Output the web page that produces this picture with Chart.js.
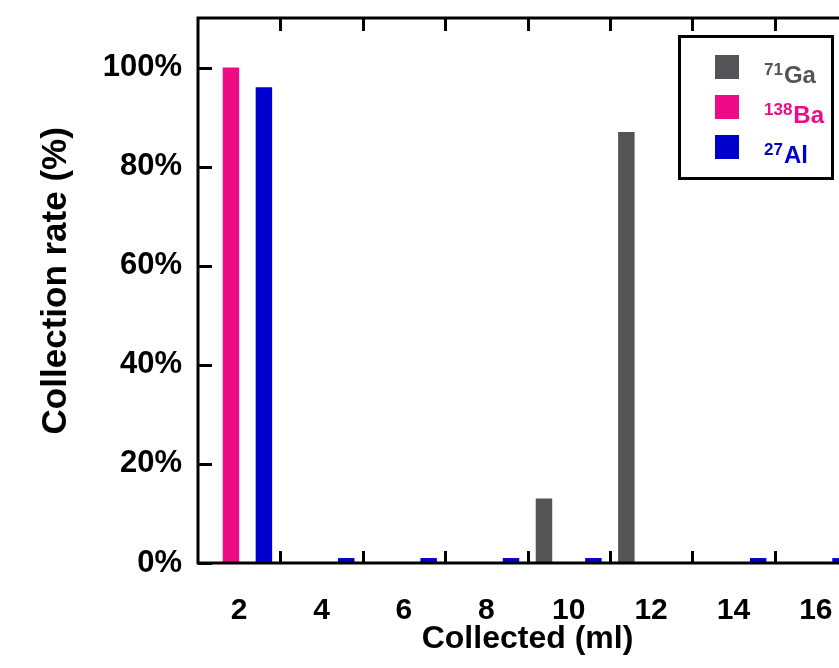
<!DOCTYPE html>
<html>
<head>
<meta charset="utf-8">
<script src="https://cdn.jsdelivr.net/npm/chart.js@4.4.1/dist/chart.umd.min.js"></script>
<style>
    html, body { margin: 0; padding: 0; background: #fff; overflow: hidden; }
    #wrap { position: absolute; left: 0; top: 0; width: 839px; height: 668px; overflow: hidden; }
</style>
</head>
<body>
<div id="wrap"><canvas id="rateChart" width="870" height="668"></canvas></div>
<script>
// Collected volume (ml) categories
const volumes = ['2', '4', '6', '8', '10', '12', '14', '16'];

// Collection rate (%) per isotope
const gaRates = [0, 0, 0, 0, 13, 87, 0, 0];
const baRates = [100, 0, 0, 0, 0, 0, 0, 0];
const gapRates = [null, null, null, null, null, null, null, null]; // empty slot in each group
const alRates = [96, 1, 1, 1, 1, 0, 1, 1];

const yTicks = [0, 20, 40, 60, 80, 100];

// legend text: mass number + element
const massNumbers = ['71', '138', '27'];
const elements = ['Ga', 'Ba', 'Al'];

const GRAY = '#545456';
const PINK = '#EE0B86';
const BLUE = '#0000CC';
const FONT = '"Liberation Sans", Arial, sans-serif';

// frame + inward ticks, drawn over the bars like the Origin plot
const framePlugin = {
    id: 'frame',
    afterDatasetsDraw(chart) {
        const { ctx, chartArea: a, scales: { x, y } } = chart;
        const half = (x.getPixelForValue(1) - x.getPixelForValue(0)) / 2;
        ctx.save();
        ctx.strokeStyle = '#000';
        ctx.lineWidth = 3;
        ctx.lineCap = 'square';
        ctx.beginPath();
        ctx.moveTo(a.left, a.bottom);
        ctx.lineTo(a.left, a.top);
        ctx.lineTo(a.right, a.top);
        ctx.lineTo(a.right, a.bottom);
        ctx.closePath();
        ctx.stroke();

        ctx.lineCap = 'butt';
        ctx.beginPath();
        // category boundaries on bottom and top
        for (let i = 1; i < volumes.length; i++) {
            const px = Math.round(x.getPixelForValue(i) - half) + 0.5;
            ctx.moveTo(px, a.bottom);
            ctx.lineTo(px, a.bottom - 12);
            ctx.moveTo(px, a.top);
            ctx.lineTo(px, a.top + 13);
        }
        // y ticks on left and right
        yTicks.forEach(v => {
            const py = Math.round(y.getPixelForValue(v)) + 0.5;
            ctx.moveTo(a.left, py);
            ctx.lineTo(a.left + 14, py);
            ctx.moveTo(a.right, py);
            ctx.lineTo(a.right - 14, py);
        });
        ctx.stroke();
        ctx.restore();
    }
};

const legendPlugin = {
    id: 'isoLegend',
    afterDraw(chart) {
        const { ctx } = chart;
        const colors = [GRAY, PINK, BLUE];
        ctx.save();
        ctx.fillStyle = '#fff';
        ctx.fillRect(679.5, 36.5, 153, 142);
        ctx.strokeStyle = '#000';
        ctx.lineWidth = 3;
        ctx.strokeRect(679.5, 36.5, 153, 142);
        ctx.textBaseline = 'alphabetic';
        ctx.textAlign = 'left';
        for (let i = 0; i < elements.length; i++) {
            const top = 55 + i * 40;
            ctx.fillStyle = colors[i];
            ctx.fillRect(715, top, 24, 24);
            const base = top + 28;
            ctx.font = 'bold 17px ' + FONT;
            ctx.fillText(massNumbers[i], 764, base - 8);
            const w = ctx.measureText(massNumbers[i]).width;
            ctx.font = 'bold 24px ' + FONT;
            ctx.fillText(elements[i], 764 + w + 1, base);
        }
        ctx.restore();
    }
};

new Chart(document.getElementById('rateChart'), {
    type: 'bar',
    data: {
        labels: volumes,
        datasets: [
            { label: 'Ga', data: gaRates, backgroundColor: GRAY },
            { label: 'Ba', data: baRates, backgroundColor: PINK },
            { label: 'gap', data: gapRates, backgroundColor: 'rgba(0,0,0,0)' },
            { label: 'Al', data: alRates, backgroundColor: BLUE }
        ]
    },
    options: {
        responsive: false,
        animation: false,
        devicePixelRatio: 1,
        layout: { padding: { top: 18, right: 13, left: 0, bottom: 0 } },
        datasets: { bar: { categoryPercentage: 0.8, barPercentage: 1.0 } },
        plugins: { legend: { display: false }, tooltip: { enabled: false } },
        scales: {
            x: {
                grid: { display: false, drawTicks: false },
                border: { display: false },
                ticks: { color: '#000', padding: 30, font: { family: FONT, size: 30, weight: 'bold' } },
                title: {
                    display: true, text: 'Collected (ml)', color: '#000',
                    font: { family: FONT, size: 32, weight: 'bold' }, padding: { top: 0, bottom: 10 }
                },
                afterFit(scale) { scale.height = 105; }
            },
            y: {
                min: 0,
                max: 110,
                grid: { display: false, drawTicks: false },
                border: { display: false },
                afterBuildTicks(scale) { scale.ticks = yTicks.map(v => ({ value: v })); },
                ticks: {
                    color: '#000', padding: 16,
                    font: { family: FONT, size: 31, weight: 'bold' },
                    callback: v => v + '%'
                },
                title: {
                    // leading spaces nudge the title a little above the axis centre
                    display: true, text: '  Collection rate (%)', color: '#000',
                    font: { family: FONT, size: 35, weight: 'bold' }, padding: { top: 35, bottom: 0 }
                },
                afterFit(scale) {
                    scale.width = 198;
                    // top tick label sits well below the frame, no extra room needed
                    scale.paddingTop = 0;
                    scale.paddingBottom = 0;
                }
            }
        }
    },
    plugins: [framePlugin, legendPlugin]
});
</script>
</body>
</html>
